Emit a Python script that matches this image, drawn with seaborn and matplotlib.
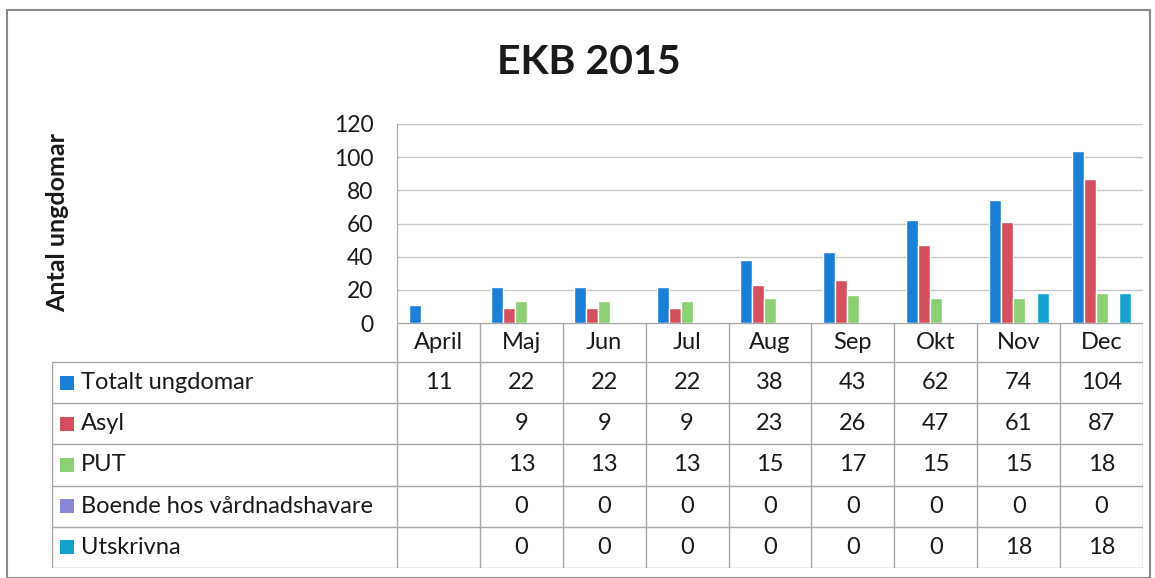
import matplotlib
matplotlib.use("Agg")
import matplotlib.pyplot as plt
import numpy as np
import pandas as pd
import seaborn as sns

#-Data
months = ["April", "Maj", "Jun", "Jul", "Aug", "Sep", "Okt", "Nov", "Dec"]
series = ["Totalt ungdomar", "Asyl", "PUT", "Boende hos vårdnadshavare", "Utskrivna"]
totalt = [11, 22, 22, 22, 38, 43, 62, 74, 104]
asyl = [None, 9, 9, 9, 23, 26, 47, 61, 87]
put = [None, 13, 13, 13, 15, 17, 15, 15, 18]
boende = [None, 0, 0, 0, 0, 0, 0, 0, 0]
utskrivna = [None, 0, 0, 0, 0, 0, 0, 18, 18]
colors = ["#1b7fd6", "#d4505e", "#8ccf74", "#8a87d6", "#14a2cc"]

values = [totalt, asyl, put, boende, utskrivna]
df = pd.DataFrame(
    [(m, s, v) for s, vals in zip(series, values) for m, v in zip(months, vals)],
    columns=["month", "series", "value"],
)

sns.set_style("white")
plt.rcParams["font.family"] = ["Lato", "DejaVu Sans"]
txt = "#1a1a1a"
line = "#a8a8a8"
fs = 17

W, H = 1155, 578
fig = plt.figure(figsize=(W / 100, H / 100), dpi=100)

def fx(px):
    return px / W

def fy(py):
    return 1 - py / H

#-Plot area
left, right, top, bottom = 397, 1143, 124, 323
ax = fig.add_axes([fx(left), fy(bottom), fx(right - left), (bottom - top) / H])
sns.barplot(data=df.dropna(), x="month", y="value", hue="series", order=months,
            hue_order=series, palette=colors, width=0.72, errorbar=None,
            legend=False, ax=ax, saturation=1)
ax.set_xlim(-0.5, len(months) - 0.5)
ax.set_ylim(0, 120)
ax.set_yticks(range(0, 121, 20))
ax.yaxis.grid(True, color="#c8c8c8", lw=1)
ax.set_axisbelow(True)
ax.set_xticks([])
ax.set_xlabel("")
ax.set_ylabel("")
ax.tick_params(axis="y", length=0, pad=17, labelsize=16.5, labelcolor=txt)
for s in ["top", "right", "bottom"]:
    ax.spines[s].set_visible(False)
ax.spines["left"].set_color(line)

fig.text(fx(589), fy(62), "EKB 2015", ha="center", va="center",
         fontsize=29.5, fontweight="bold", color=txt)
fig.text(fx(58), fy(222), "Antal ungdomar", ha="center", va="center",
         rotation=90, fontsize=18, fontweight="bold", color=txt)

#-Data table
tab_left, tab_bottom = 52, 568
unit = (right - left) / len(months)
x0 = -0.5 - (left - tab_left) / unit
tab = fig.add_axes([fx(tab_left), fy(tab_bottom), fx(right - tab_left), (tab_bottom - bottom) / H])
tab.set_xlim(x0, len(months) - 0.5)
tab.set_ylim(tab_bottom, bottom)
tab.axis("off")

head = 362
row_h = (tab_bottom - head) / len(series)
rows = [head + i * row_h for i in range(len(series) + 1)]

# horizontal lines
tab.plot([-0.5, len(months) - 0.5], [bottom, bottom], color=line, lw=1)
for r in rows:
    tab.plot([x0, len(months) - 0.5], [r, r], color=line, lw=1)
# vertical lines
for i in range(len(months) + 1):
    tab.plot([i - 0.5, i - 0.5], [bottom, tab_bottom], color=line, lw=1)
tab.plot([x0, x0], [head, tab_bottom], color=line, lw=1)

for i, m in enumerate(months):
    tab.text(i, (bottom + head) / 2, m, ha="center", va="center", fontsize=fs, color=txt)

for j, (s, vals, c) in enumerate(zip(series, values, colors)):
    yc = rows[j] + row_h / 2
    tab.scatter([x0 + 15 / unit], [yc], marker="s", s=88, color=c, linewidths=0)
    tab.text(x0 + 29 / unit, yc, s, ha="left", va="center", fontsize=fs, color=txt)
    for i, v in enumerate(vals):
        if v is not None:
            tab.text(i, yc, str(v), ha="center", va="center", fontsize=fs, color=txt)

#-Outer frame
fig.add_artist(plt.Rectangle((fx(7), 0), fx(1150 - 7), fy(10), fill=False,
                             edgecolor="#8a8a8a", lw=1.5, transform=fig.transFigure))

fig.savefig("out.png", dpi=100, facecolor="white")
